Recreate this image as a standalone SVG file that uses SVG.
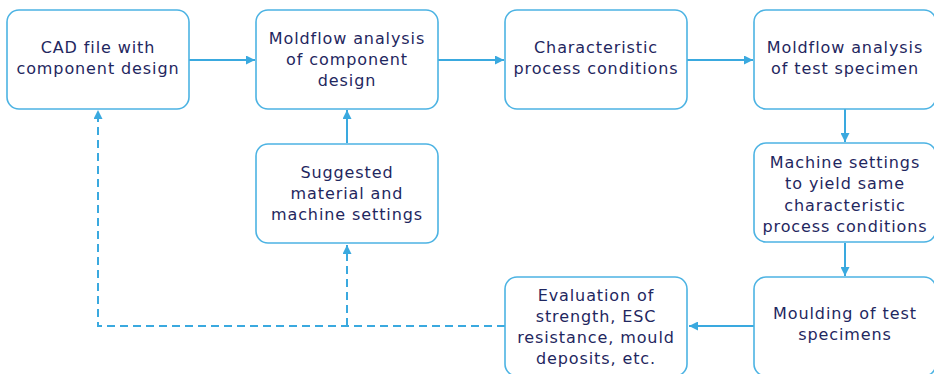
<svg xmlns="http://www.w3.org/2000/svg" width="934" height="374" viewBox="0 0 934 374">
<defs>
<marker id="ah" viewBox="0 0 10 10" refX="10" refY="5" markerWidth="9" markerHeight="9" markerUnits="userSpaceOnUse" orient="auto">
<path d="M0,0 L10,5 L0,10 z" fill="#3aa9df"/>
</marker>
<style>
.box{fill:#fff;stroke:#4cb3e3;stroke-width:1.6}
.t{font-family:"DejaVu Sans",Verdana,sans-serif;font-size:16px;letter-spacing:0.9px;fill:#1f2760;text-anchor:middle;dominant-baseline:central}
.c{fill:none;stroke:#3aa9df;stroke-width:2}
.d{fill:none;stroke:#3aa9df;stroke-width:2;stroke-dasharray:8 5}
</style>
</defs>
<rect width="934" height="374" fill="#fff"/>
<g id="connectors">
<path class="c" d="M189,60 H255" marker-end="url(#ah)"/>
<path class="c" d="M438,60 H504" marker-end="url(#ah)"/>
<path class="c" d="M687,60 H753" marker-end="url(#ah)"/>
<path class="c" d="M845,109 V142" marker-end="url(#ah)"/>
<path class="c" d="M845,243 V276" marker-end="url(#ah)"/>
<path class="c" d="M754,326 H689" marker-end="url(#ah)"/>
<path class="c" d="M347,143 V110" marker-end="url(#ah)"/>
<path class="d" d="M505,326 H98 V110" marker-end="url(#ah)"/>
<path class="d" d="M347,326 V245" marker-end="url(#ah)"/>
</g>
<g id="n1"><rect class="box" x="7" y="10" width="182" height="99" rx="12"/>
<text class="t" x="98" y="47.5">CAD file with</text><text class="t" x="98" y="68.5">component design</text></g>
<g id="n2"><rect class="box" x="256" y="10" width="182" height="99" rx="12"/>
<text class="t" x="347" y="38.5">Moldflow analysis</text><text class="t" x="347" y="59.5">of component</text><text class="t" x="347" y="80.5">design</text></g>
<g id="n3"><rect class="box" x="505" y="10" width="182" height="99" rx="12"/>
<text class="t" x="596" y="47.5">Characteristic</text><text class="t" x="596" y="68.5">process conditions</text></g>
<g id="n4"><rect class="box" x="754" y="10" width="182" height="99" rx="12"/>
<text class="t" x="845" y="47.5">Moldflow analysis</text><text class="t" x="845" y="68.5">of test specimen</text></g>
<g id="n5"><rect class="box" x="256" y="144" width="182" height="99" rx="12"/>
<text class="t" x="347" y="172">Suggested</text><text class="t" x="347" y="193">material and</text><text class="t" x="347" y="214">machine settings</text></g>
<g id="n6"><rect class="box" x="754" y="143" width="182" height="99" rx="12"/>
<text class="t" x="845" y="162">Machine settings</text><text class="t" x="845" y="183.5">to yield same</text><text class="t" x="845" y="205">characteristic</text><text class="t" x="845" y="226.5">process conditions</text></g>
<g id="n7"><rect class="box" x="754" y="277" width="182" height="99" rx="12"/>
<text class="t" x="845" y="313">Moulding of test</text><text class="t" x="845" y="334">specimens</text></g>
<g id="n8"><rect class="box" x="505" y="277" width="182" height="99" rx="12"/>
<text class="t" x="596" y="295.5">Evaluation of</text><text class="t" x="596" y="316.5">strength, ESC</text><text class="t" x="596" y="337.5">resistance, mould</text><text class="t" x="596" y="358.5">deposits, etc.</text></g>
</svg>
